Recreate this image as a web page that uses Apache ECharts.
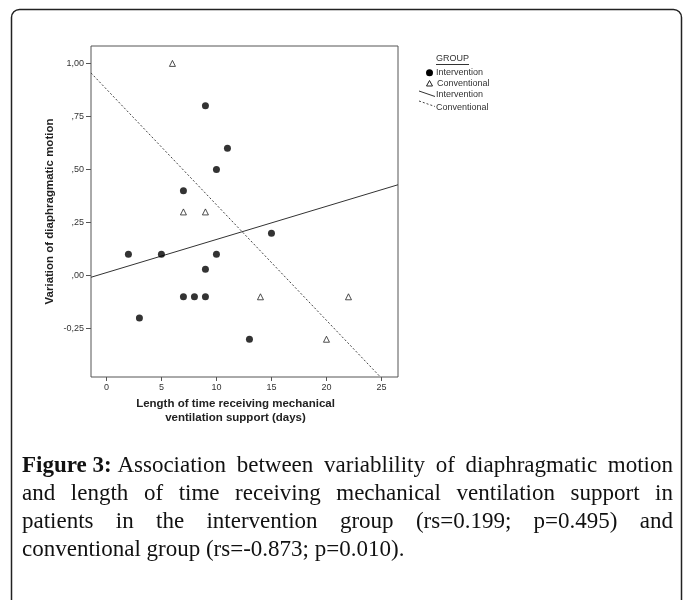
<!DOCTYPE html>
<html>
<head>
<meta charset="utf-8">
<script src="https://cdn.jsdelivr.net/npm/echarts@6/dist/echarts.min.js"></script>
<style>
html, body { margin: 0; padding: 0; background: #fff; }
#chart { width: 683px; height: 600px; }
</style>
</head>
<body>
<div id="chart"></div>
<script>
// values (SPSS scatter, two groups + fit lines)
var interventionPoints = [[2, 0.1], [3, -0.2], [5, 0.1], [7, 0.4], [7, -0.1], [8, -0.1], [9, 0.8], [9, 0.03],
	[9, -0.1], [10, 0.5], [10, 0.1], [11, 0.6], [13, -0.3], [15, 0.2]];
var conventionalPoints = [[6, 1.0], [7, 0.3], [9, 0.3], [14, -0.1], [20, -0.3], [22, -0.1]];
var interventionFit = [[-1.4, -0.008], [26.5, 0.428]];
var conventionalFit = [[-1.4, 0.955], [24.9, -0.478]];

var xTicks = [0, 5, 10, 15, 20, 25];
var yTicks = [-0.25, 0, 0.25, 0.5, 0.75, 1];
var yTickLabels = ['-0,25', ',00', ',25', ',50', ',75', '1,00'];

var legendTitle = 'GROUP';
var legendNames = ['Intervention', 'Conventional', 'Intervention', 'Conventional'];

var captionBold = ['Figure', '3:'];
var captionLines = [
	'Association between variablility of diaphragmatic motion',
	'and length of time receiving mechanical ventilation support in',
	'patients in the intervention group (rs=0.199; p=0.495) and',
	'conventional group (rs=-0.873; p=0.010).'
];

var chart = echarts.init(document.getElementById('chart'));

var capFont = '23px "Liberation Serif"';
var capBoldFont = 'bold 23px "Liberation Serif"';
var capLeft = 22, capRight = 673, capTop = 466, capStep = 28;

var ctx = document.createElement('canvas').getContext('2d');
function textWidth(str, font){
	ctx.font = font;
	return ctx.measureText(str).width;
}

// justified caption: words spread between capLeft and capRight, last line left aligned
function captionGraphics(){
	var out = [];
	captionLines.forEach(function(line, i){
		var words = line.split(' ').map(function(w){ return {text: w, font: capFont}; });
		var space = textWidth(' ', capFont);
		var total = 0;
		words.forEach(function(w){ w.width = textWidth(w.text, w.font); total += w.width; });
		var gap = space;
		if(i < captionLines.length - 1){
			var lead = (i == 0) ? textWidth(captionBold.join(' ') + ' ', capBoldFont) : 0;
			gap = (capRight - capLeft - lead - total) / (words.length - 1);
		}
		var x = capLeft;
		if(i == 0){
			out.push({
				type: 'text', x: x, y: capTop, silent: true,
				style: {text: captionBold.join(' '), font: capBoldFont, fill: '#111', verticalAlign: 'middle'}
			});
			x += textWidth(captionBold.join(' ') + ' ', capBoldFont);
		}
		words.forEach(function(w){
			out.push({
				type: 'text', x: x, y: capTop + i * capStep, silent: true,
				style: {text: w.text, font: w.font, fill: '#111', verticalAlign: 'middle'}
			});
			x += w.width + gap;
		});
	});
	return out;
}

var legendFont = '9px Arial';
var legendGraphics = [
	{type: 'text', x: 436, y: 59, style: {text: legendTitle, font: legendFont, fill: '#333', verticalAlign: 'middle'}},
	{type: 'line', shape: {x1: 436, y1: 64.5, x2: 469, y2: 64.5}, style: {stroke: '#333', lineWidth: 1}},
	{type: 'circle', shape: {cx: 429.5, cy: 72.7, r: 3.5}, style: {fill: '#000'}},
	{type: 'text', x: 436, y: 73, style: {text: legendNames[0], font: legendFont, fill: '#333', verticalAlign: 'middle'}},
	{type: 'polygon', shape: {points: [[429.5, 80.5], [432.5, 86], [426.5, 86]]}, style: {fill: '#fff', stroke: '#222', lineWidth: 1}},
	{type: 'text', x: 437, y: 83.5, style: {text: legendNames[1], font: legendFont, fill: '#333', verticalAlign: 'middle'}},
	{type: 'line', shape: {x1: 419, y1: 91, x2: 435, y2: 96.5}, style: {stroke: '#333', lineWidth: 1}},
	{type: 'text', x: 436, y: 94.5, style: {text: legendNames[2], font: legendFont, fill: '#333', verticalAlign: 'middle'}},
	{type: 'line', shape: {x1: 419, y1: 101, x2: 435, y2: 106.5}, style: {stroke: '#444', lineWidth: 1, lineDash: [2, 2]}},
	{type: 'text', x: 436, y: 107.3, style: {text: legendNames[3], font: legendFont, fill: '#333', verticalAlign: 'middle'}}
];

var option = {
	animation: false,
	backgroundColor: '#fff',
	grid: {left: 91, top: 46, width: 307, height: 331, show: true, borderColor: '#555', borderWidth: 1, backgroundColor: '#fff'},
	xAxis: {
		type: 'value', min: -1.4, max: 26.5,
		name: 'Length of time receiving mechanical\nventilation support (days)',
		nameLocation: 'middle', nameGap: 20,
		nameTextStyle: {fontFamily: 'Arial', fontWeight: 'bold', fontSize: 11.5, color: '#222', lineHeight: 14, padding: [0, 18, 0, 0]},
		axisLine: {show: false, onZero: false},
		splitLine: {show: false},
		axisTick: {show: true, customValues: xTicks, length: 4, lineStyle: {color: '#555'}},
		axisLabel: {customValues: xTicks, margin: 6, fontFamily: 'Arial', fontSize: 9, color: '#333'}
	},
	yAxis: {
		type: 'value', min: -0.478, max: 1.082,
		name: 'Variation of diaphragmatic motion',
		nameLocation: 'middle', nameGap: 35,
		nameTextStyle: {fontFamily: 'Arial', fontWeight: 'bold', fontSize: 11.5, color: '#222'},
		axisLine: {show: false, onZero: false},
		splitLine: {show: false},
		axisTick: {show: true, customValues: yTicks, length: 5, lineStyle: {color: '#555'}},
		axisLabel: {
			customValues: yTicks, margin: 7, fontFamily: 'Arial', fontSize: 9, color: '#333',
			formatter: function(v){
				var i = yTicks.indexOf(v);
				return i >= 0 ? yTickLabels[i] : '';
			}
		}
	},
	series: [
		{
			type: 'scatter', data: interventionPoints, symbol: 'circle', symbolSize: 7,
			itemStyle: {color: '#000'}, z: 4
		},
		{
			type: 'scatter', data: conventionalPoints, symbol: 'triangle', symbolSize: 6,
			itemStyle: {color: '#fff', borderColor: '#222', borderWidth: 1}, z: 4
		},
		{
			type: 'line', data: interventionFit, showSymbol: false, silent: true,
			lineStyle: {color: '#333', width: 1}
		},
		{
			type: 'line', data: conventionalFit, showSymbol: false, silent: true,
			lineStyle: {color: '#444', width: 1, type: [2, 2]}
		}
	],
	graphic: [
		{type: 'rect', shape: {x: 11.5, y: 9.5, width: 670, height: 640, r: 8}, style: {fill: 'none', stroke: '#222', lineWidth: 1.5}, silent: true}
	].concat(legendGraphics, captionGraphics())
};

chart.setOption(option);
</script>
</body>
</html>
